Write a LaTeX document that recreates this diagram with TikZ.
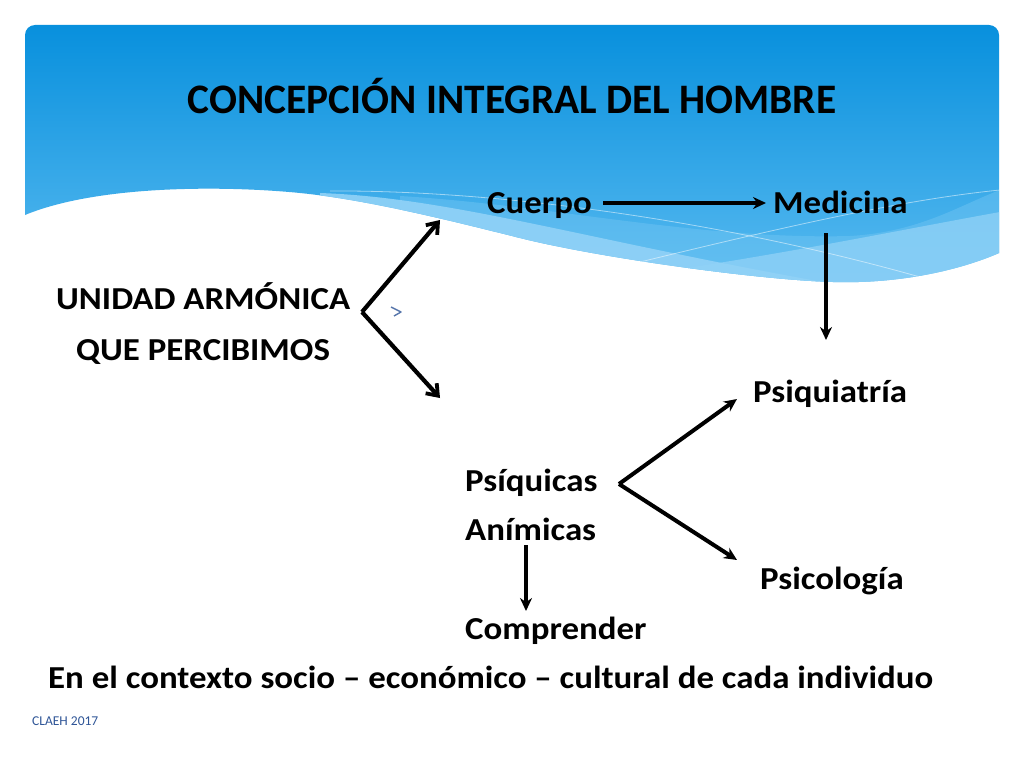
\documentclass[tikz,border=0pt]{standalone}
\usepackage{fontspec}
\setmainfont{Carlito}
\usetikzlibrary{arrows.meta}
\definecolor{topblue}{RGB}{8,144,221}
\definecolor{midblue}{RGB}{88,186,240}
\definecolor{bandmid}{RGB}{115,198,243}
\definecolor{bandlight}{RGB}{145,210,247}
\definecolor{claeh}{RGB}{47,85,151}
\begin{document}
\begin{tikzpicture}[x=1pt,y=-1pt,
  lbl/.style={font=\bfseries\fontsize{32}{36}\selectfont, anchor=base west, inner sep=0pt, xscale=1.09},
  arr/.style={-{Stealth[length=13pt,width=12pt]}, line width=4pt},
  barb/.style={-{Straight Barb[length=10pt,width=15pt,line width=3.8pt]}, line width=4.2pt},
  thinwave/.style={white, opacity=0.5, line width=0.8pt}
]
\useasboundingbox[fill=white] (0,0) rectangle (1024,768);
\def\headerpath{(25,215) -- (25,35) arc[start angle=180, end angle=90, radius=10pt] -- (989,25)
  arc[start angle=90, end angle=0, radius=10pt] -- (999,253)
  .. controls (960,270) and (900,284) .. (833,282)
  .. controls (760,280) and (600,258) .. (520,238)
  .. controls (460,223) and (370,200) .. (300,193)
  .. controls (230,186) and (100,184) .. (25,215) -- cycle}
% blue header with wave
\path[top color=topblue, bottom color=midblue] \headerpath;
\begin{scope}
  \clip \headerpath;
  \fill[bandmid, opacity=0.45] (400,196) .. controls (550,205) and (700,240) .. (850,236)
     .. controls (920,232) and (960,205) .. (1000,190) -- (1000,300) -- (400,300) -- cycle;
  \fill[bandlight, opacity=0.9] (320,193) .. controls (460,198) and (600,245) .. (880,292) -- (320,300) -- cycle;
  \fill[bandlight, opacity=0.75] (640,275) .. controls (780,255) and (900,230) .. (1000,212) -- (1000,300) -- (640,300) -- cycle;
  \draw[thinwave] (330,191) .. controls (480,190) and (700,215) .. (920,277);
  \draw[thinwave] (640,262) .. controls (780,228) and (900,200) .. (1000,190);
\end{scope}
% title
\node[font=\bfseries\fontsize{42}{48}\selectfont, anchor=base, inner sep=0pt, xscale=0.985] (title) at (512,113) {CONCEPCIÓN INTEGRAL DEL HOMBRE};
% labels
\node[lbl] (cuerpo) at (487,213) {Cuerpo};
\node[lbl] (medicina) at (773,213) {Medicina};
\node[lbl] (unidad) at (56,309) {UNIDAD ARMÓNICA};
\node[lbl] (percib) at (76,360) {QUE PERCIBIMOS};
\node[lbl] (psiqui) at (753,402) {Psiquiatría};
\node[lbl] (psiquicas) at (465,491) {Psíquicas};
\node[lbl] (animicas) at (465,540) {Anímicas};
\node[lbl] (psicol) at (760,589) {Psicología};
\node[lbl] (compr) at (465,639) {Comprender};
\node[lbl] (contexto) at (48,688) {En el contexto socio – económico – cultural de cada individuo};
\node[font=\fontsize{13.5}{16}\selectfont, text=claeh, anchor=base west, inner sep=0pt] (claeh) at (32,725) {CLAEH 2017};
% connector coordinates
\coordinate (f1) at (362,312);
\coordinate (f1a) at (440,220);
\coordinate (f1b) at (440,398);
\coordinate (f2) at (619,484);
\coordinate (f2a) at (737,399);
\coordinate (f2b) at (737,560);
\coordinate (c1) at (603,203);
\coordinate (c2) at (766,203);
\coordinate (m1) at (826,233);
\coordinate (m2) at (826,340);
\coordinate (a1) at (526,545);
\coordinate (a2) at (526,611);
% connectors
\draw[arr] (c1) -- (c2);
\draw[arr, line width=3.4pt] (m1) -- (m2);
\draw[barb] (f1) -- (f1a);
\draw[barb] (f1) -- (f1b);
\draw[arr] (f2) -- (f2a);
\draw[arr] (f2) -- (f2b);
\draw[arr, line width=3.2pt] (a1) -- (a2);
% small mark
\draw[claeh!80, line width=1.4pt, line join=round] (391,307) -- (401,312) -- (394,316);
\end{tikzpicture}
\end{document}
